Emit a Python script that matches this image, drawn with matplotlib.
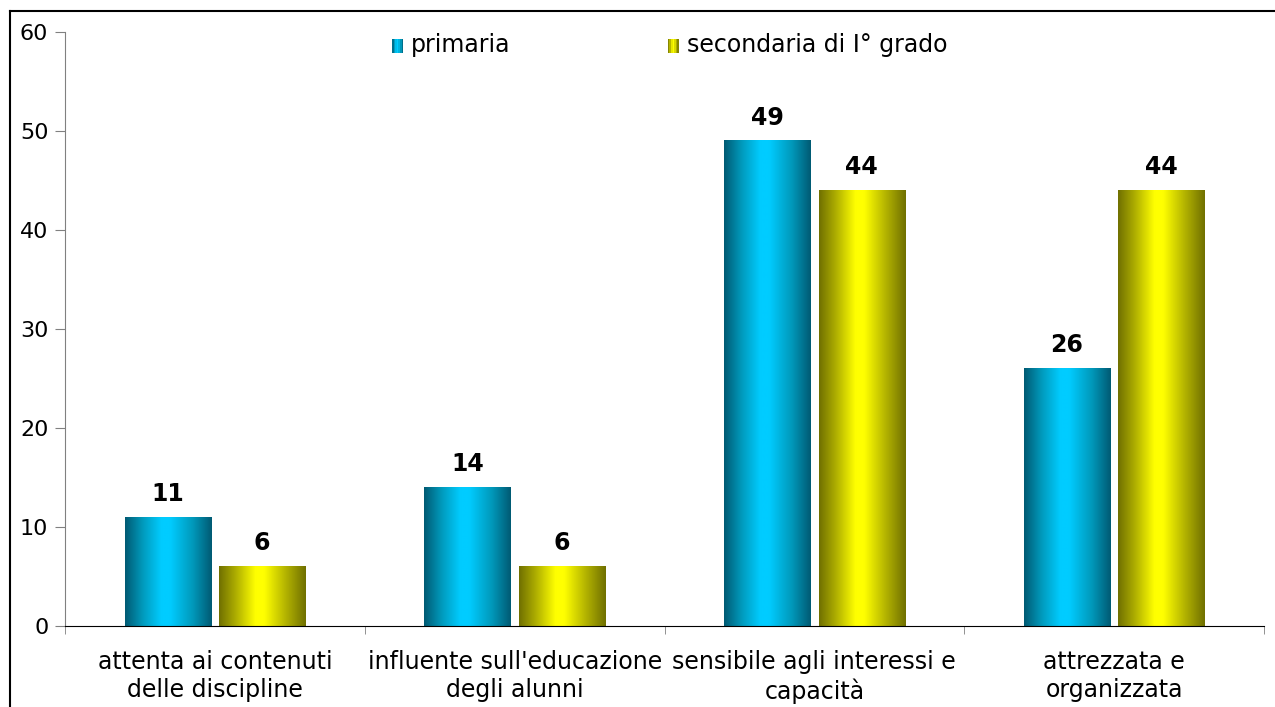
import numpy as np
import matplotlib
matplotlib.use("Agg")
import matplotlib.pyplot as plt
from matplotlib.colors import LinearSegmentedColormap
from matplotlib.patches import Rectangle
from matplotlib.legend_handler import HandlerBase
from matplotlib.lines import Line2D

categories = ["attenta ai contenuti\ndelle discipline",
              "influente sull'educazione\ndegli alunni",
              "sensibile agli interessi e\ncapacità",
              "attrezzata e\norganizzata"]
primaria = [11, 14, 49, 26]
secondaria = [6, 6, 44, 44]
series_names = ["primaria", "secondaria di I° grado"]

plt.rcParams['font.family'] = ['DejaVu Sans']

# gradient colours: dark edges, bright centre
cyan_stops = ["#005a73", "#0099bb", "#00ccff", "#00ccff", "#0099bb", "#005a73"]
yell_stops = ["#707000", "#b0b000", "#ffff00", "#ffff00", "#b0b000", "#707000"]
pos = [0, 0.2, 0.42, 0.52, 0.78, 1]
cyan_cmap = LinearSegmentedColormap.from_list("cy", list(zip(pos, cyan_stops)))
yell_cmap = LinearSegmentedColormap.from_list("ye", list(zip(pos, yell_stops)))

fig = plt.figure(figsize=(12.75, 7.07), dpi=100)
ax = fig.add_axes([65/1275, 1 - 626/707, (1264 - 65)/1275, (626 - 32)/707])

x = np.arange(len(categories))
w = 0.287
off = 0.158
grad = np.linspace(0, 1, 256).reshape(1, -1)

for vals, cmap, sign in [(primaria, cyan_cmap, -1), (secondaria, yell_cmap, 1)]:
    bars = ax.bar(x + sign * off, vals, width=w, color="none", edgecolor="none", zorder=2)
    for b, v in zip(bars, vals):
        x0 = b.get_x()
        ax.imshow(grad, cmap=cmap, extent=(x0, x0 + b.get_width(), 0, v),
                  aspect="auto", zorder=2, interpolation="bilinear")
        ax.annotate(str(v), (x0 + b.get_width() / 2, v), xytext=(0, 8),
                    textcoords="offset points", ha="center", va="bottom",
                    fontsize=17, fontweight="bold")

ax.set_xlim(-0.5, 3.5)
ax.set_ylim(0, 60)
ax.set_yticks(range(0, 61, 10))
ax.set_xticks(x)
ax.set_xticklabels(categories, fontsize=17, linespacing=1.25)
ax.set_xticks(np.arange(-0.5, 3.6, 1), minor=True)
ax.tick_params(axis="x", which="major", length=0, pad=17)
ax.tick_params(axis="x", which="minor", length=6, color="#808080")
ax.tick_params(axis="y", labelsize=16, length=7, color="#808080", pad=5)
ax.spines["top"].set_visible(False)
ax.spines["right"].set_visible(False)
ax.spines["left"].set_color("#808080")
ax.spines["bottom"].set_color("black")


class GradHandler(HandlerBase):
    def __init__(self, cmap):
        super().__init__()
        self.cmap = cmap

    def create_artists(self, legend, orig, xd, yd, width, height, fontsize, trans):
        n = 7
        arts = []
        for i in range(n):
            arts.append(Rectangle((xd + i * width / n, yd), width / n, height,
                                  facecolor=self.cmap((i + 0.5) / n), edgecolor="none",
                                  transform=trans))
        return arts


h1 = Rectangle((0, 0), 1, 1)
h2 = Rectangle((0, 0), 1, 1)
fig.legend([h1, h2], series_names, loc="center left", bbox_to_anchor=(392/1275, 1 - 45/707),
           ncol=2, frameon=False, fontsize=17, handlelength=0.47, handleheight=0.55,
           handletextpad=0.35, columnspacing=6.65, borderpad=0, borderaxespad=0,
           handler_map={h1: GradHandler(cyan_cmap), h2: GradHandler(yell_cmap)})

# outer frame of the original slide (partly cut off)
fig.add_artist(Line2D([9.5/1275, 1.0], [1 - 11/707, 1 - 11/707], color="black", lw=1.5))
fig.add_artist(Line2D([9.5/1275, 9.5/1275], [0, 1 - 11/707], color="black", lw=1.5))

fig.savefig("out.png", dpi=100)
